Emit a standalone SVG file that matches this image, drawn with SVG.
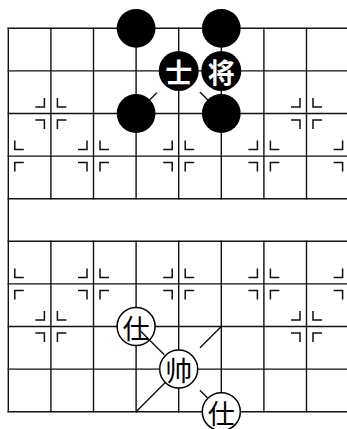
<svg xmlns="http://www.w3.org/2000/svg" xmlns:xlink="http://www.w3.org/1999/xlink" width="347" height="429" viewBox="0 0 347 429">
<style>
.grid{stroke:#111;stroke-width:1.4;fill:none;stroke-linecap:square}
.diag{stroke:#111;stroke-width:1.4;fill:none}
.mk{stroke:#111;stroke-width:1.5;fill:none}
.blk{fill:#000}
.wht{fill:#fff;stroke:#000;stroke-width:1.5}
.tw{fill:#fff;font-family:"Noto Sans CJK SC","Noto Sans CJK JP",sans-serif;font-weight:bold;font-size:27px;text-anchor:middle;dominant-baseline:central}
.tb{fill:#000;font-family:"Noto Sans CJK SC","Noto Sans CJK JP",sans-serif;font-weight:normal;font-size:27px;text-anchor:middle;dominant-baseline:central}
</style>
<defs>
<path id="mR" class="mk" d="M15.5,-6.5H6.5V-15.5M15.5,6.5H6.5V15.5"/>
<path id="mL" class="mk" d="M-15.5,-6.5H-6.5V-15.5M-15.5,6.5H-6.5V15.5"/>
<g id="mF"><use xlink:href="#mR"/><use xlink:href="#mL"/></g>
</defs>
<rect width="347" height="429" fill="#fff"/>
<g id="board">
<path class="grid" d="M8.3,28.3H352M8.3,70.9H352M8.3,113.5H352M8.3,156.1H352M8.3,198.7H352M8.3,241.3H352M8.3,283.9H352M8.3,326.5H352M8.3,369.1H352M8.3,411.7H352"/>
<path class="grid" d="M8.3,28.3V411.7M50.9,28.3V198.7M93.5,28.3V198.7M136.1,28.3V198.7M178.7,28.3V198.7M221.3,28.3V198.7M263.9,28.3V198.7M306.5,28.3V198.7M50.9,241.3V411.7M93.5,241.3V411.7M136.1,241.3V411.7M178.7,241.3V411.7M221.3,241.3V411.7M263.9,241.3V411.7M306.5,241.3V411.7"/>
</g>
<g id="markers">
<use xlink:href="#mF" x="50.9" y="113.5"/>
<use xlink:href="#mF" x="306.5" y="113.5"/>
<use xlink:href="#mR" x="8.3" y="156.1"/>
<use xlink:href="#mF" x="93.5" y="156.1"/>
<use xlink:href="#mF" x="178.7" y="156.1"/>
<use xlink:href="#mF" x="263.9" y="156.1"/>
<use xlink:href="#mL" x="349.1" y="156.1"/>
<use xlink:href="#mR" x="8.3" y="283.9"/>
<use xlink:href="#mF" x="93.5" y="283.9"/>
<use xlink:href="#mF" x="178.7" y="283.9"/>
<use xlink:href="#mF" x="263.9" y="283.9"/>
<use xlink:href="#mL" x="349.1" y="283.9"/>
<use xlink:href="#mF" x="50.9" y="326.5"/>
<use xlink:href="#mF" x="306.5" y="326.5"/>
</g>
<g id="connectors">
<path class="diag" d="M136.1,113.5L156.8,92.8M199.9,92.1L221.3,113.5"/>
<path class="diag" d="M221.3,326.5L200,347.8M178.7,369.1L136.1,411.7M199.9,390.3L221.3,411.7"/>
</g>
<g id="piece-b1"><circle class="blk" cx="136.1" cy="28.3" r="19.4"/></g>
<g id="piece-b2"><circle class="blk" cx="221.3" cy="28.3" r="19.4"/></g>
<g id="piece-b3"><circle class="blk" cx="136.1" cy="113.5" r="19.4"/></g>
<g id="piece-b4"><circle class="blk" cx="221.3" cy="113.5" r="19.4"/></g>
<g id="piece-shi-black"><circle class="blk" cx="178.7" cy="70.9" r="20"/><text class="tw" x="178.7" y="71.5">士</text></g>
<g id="piece-jiang"><circle class="blk" cx="221.3" cy="70.9" r="20"/><text class="tw" x="221.3" y="71.5">将</text></g>
<g id="piece-shi-red1"><circle class="wht" cx="136.1" cy="326.5" r="19"/><text class="tb" x="136.1" y="327">仕</text></g>
<g id="piece-shuai"><circle class="wht" cx="178.7" cy="369.1" r="19"/><text class="tb" x="178.7" y="369.6">帅</text></g>
<g id="piece-shi-red2"><circle class="wht" cx="221.3" cy="411.7" r="19"/><text class="tb" x="221.3" y="412.2">仕</text></g>
<g id="connector-over">
<path class="diag" d="M141,331.4L164.3,354.7"/>
</g>
</svg>
